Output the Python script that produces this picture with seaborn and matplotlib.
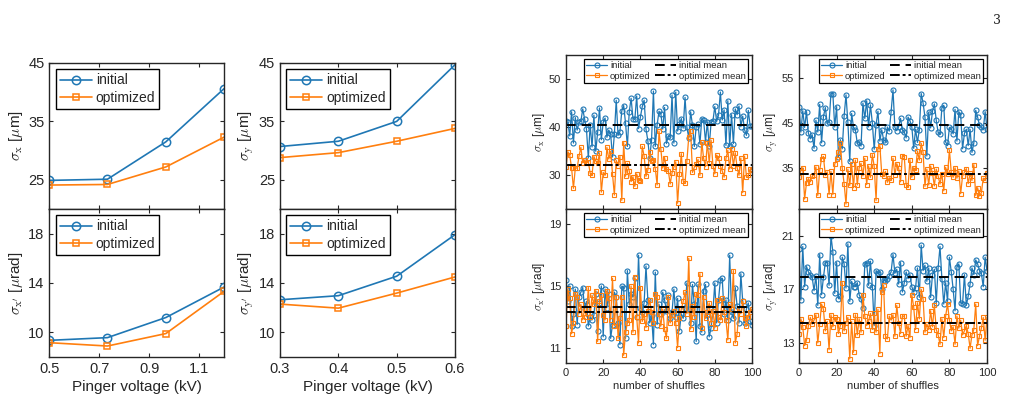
import numpy as np
import pandas as pd
import matplotlib
matplotlib.use("Agg")
import matplotlib.pyplot as plt
import seaborn as sns

# ---------------- data ----------------
volt_x = [0.5, 0.733, 0.967, 1.2]
volt_y = [0.3, 0.4, 0.5, 0.6]
sigx_init = [24.9, 25.1, 31.5, 40.6]
sigx_opt = [24.1, 24.2, 27.2, 32.3]
sigy_init = [30.7, 31.6, 35.0, 44.7]
sigy_opt = [28.8, 29.65, 31.6, 33.8]
sigxp_init = [9.35, 9.57, 11.2, 13.67]
sigxp_opt = [9.16, 8.89, 9.9, 13.32]
sigyp_init = [12.64, 12.97, 14.55, 17.92]
sigyp_opt = [12.29, 11.96, 13.18, 14.49]

shuffles = list(range(101))
sx_init = [41.3, 41.0, 38.2, 43.2, 36.7, 42.0, 39.4, 41.0, 41.2, 43.8,
           41.7, 39.6, 33.6, 40.5, 35.9, 42.5, 35.0, 38.9, 44.0, 37.4,
           41.0, 41.9, 37.9, 39.4, 38.6, 33.8, 38.5, 45.6, 38.3, 39.1,
           43.4, 44.5, 40.9, 36.0, 43.2, 46.0, 41.8, 41.6, 46.5, 39.7,
           42.1, 44.3, 45.6, 39.6, 37.2, 33.5, 37.4, 47.5, 36.0, 40.5,
           43.3, 42.8, 39.6, 44.1, 36.6, 38.2, 37.9, 46.7, 36.7, 47.3,
           39.2, 40.6, 41.8, 39.8, 46.2, 40.0, 37.8, 43.2, 40.4, 36.0,
           40.1, 40.6, 36.5, 41.8, 41.4, 37.0, 41.1, 36.0, 41.0, 41.3,
           44.3, 41.2, 42.5, 47.3, 41.5, 43.6, 36.2, 45.5, 36.0, 42.6,
           36.6, 43.8, 42.6, 44.4, 40.1, 42.3, 39.5, 38.3, 43.5, 40.3,
           40.2]
sx_opt = [31.8, 34.9, 34.2, 31.5, 27.3, 31.5, 31.5, 34.0, 35.8, 32.6,
          33.2, 32.6, 32.8, 30.4, 30.1, 33.9, 33.0, 32.5, 34.6, 26.5,
          30.6, 30.0, 35.8, 33.4, 35.0, 30.3, 25.9, 33.1, 32.0, 33.9,
          24.8, 36.8, 29.8, 32.5, 30.9, 28.7, 29.7, 27.7, 30.3, 29.0,
          28.8, 36.0, 34.0, 29.8, 31.1, 34.9, 33.0, 33.1, 31.4, 28.0,
          39.2, 35.4, 31.5, 33.7, 31.4, 31.0, 28.2, 30.5, 31.7, 32.8,
          24.2, 30.3, 34.5, 28.8, 28.5, 33.0, 38.0, 39.3, 30.6, 31.7,
          32.4, 33.3, 30.0, 36.9, 33.5, 31.8, 36.8, 32.6, 37.3, 32.0,
          30.3, 34.2, 33.6, 31.9, 30.9, 29.6, 33.5, 35.2, 31.3, 35.5,
          32.0, 34.7, 31.6, 30.0, 33.6, 26.4, 34.0, 29.7, 30.0, 31.3,
          31.2]
sxp_init = [15.4, 14.0, 15.0, 12.4, 13.2, 14.8, 12.5, 14.3, 14.6, 14.9,
            13.5, 14.0, 12.4, 13.0, 12.8, 13.1, 14.5, 12.1, 13.9, 15.0,
            11.7, 14.8, 13.6, 14.5, 11.6, 12.5, 14.6, 14.3, 12.6, 11.2,
            15.0, 14.9, 11.6, 16.0, 13.8, 14.5, 14.3, 15.5, 13.0, 17.0,
            13.6, 13.3, 13.9, 16.3, 14.1, 12.6, 13.1, 11.2, 15.9, 12.5,
            13.8, 13.2, 14.6, 14.1, 13.4, 14.4, 12.9, 13.3, 14.8, 13.0,
            14.2, 12.1, 13.2, 12.9, 13.6, 15.2, 13.5, 12.6, 15.1, 13.8,
            11.4, 15.1, 12.4, 12.0, 14.7, 15.1, 13.1, 11.7, 12.3, 13.4,
            15.2, 12.6, 14.1, 15.4, 15.5, 13.2, 14.1, 12.8, 17.0, 13.3,
            12.9, 14.9, 13.7, 12.6, 15.8, 14.0, 12.6, 13.5, 13.9, 12.7,
            12.5]
sxp_opt = [12.4, 14.8, 14.2, 11.9, 12.6, 14.5, 14.3, 13.2, 13.8, 12.8,
           13.5, 13.0, 14.9, 13.0, 14.4, 13.8, 14.7, 11.4, 14.0, 14.4,
           13.1, 12.8, 14.7, 14.2, 12.8, 15.5, 12.4, 14.3, 11.6, 12.9,
           14.3, 10.5, 12.0, 12.6, 12.8, 15.0, 12.0, 15.6, 13.0, 11.3,
           14.9, 12.7, 13.2, 12.3, 13.4, 14.1, 13.3, 12.6, 14.5, 14.3,
           13.2, 12.4, 13.5, 12.2, 11.6, 14.3, 12.6, 13.1, 13.4, 12.6,
           11.0, 12.9, 13.5, 14.0, 14.6, 13.2, 16.8, 12.2, 13.7, 13.0,
           14.5, 14.4, 15.8, 12.3, 14.3, 12.9, 13.3, 13.9, 12.6, 13.4,
           12.3, 14.1, 13.0, 12.8, 14.2, 13.3, 12.8, 11.5, 13.8, 13.5,
           16.0, 11.3, 11.9, 13.5, 13.2, 14.0, 12.9, 12.4, 13.0, 13.3,
           13.5]
sy_init = [48.5, 43.0, 47.7, 44.0, 47.5, 42.7, 41.5, 42.4, 39.4, 45.6,
           43.0, 49.1, 40.6, 46.4, 48.4, 44.9, 45.1, 51.5, 51.5, 44.1,
           48.6, 37.5, 41.3, 39.3, 46.5, 51.2, 45.1, 36.5, 47.1, 44.0,
           43.5, 40.5, 40.7, 39.9, 49.4, 46.0, 49.9, 44.1, 49.0, 45.0,
           39.2, 44.6, 47.6, 41.0, 43.5, 41.3, 40.9, 44.1, 43.2, 47.5,
           52.3, 44.0, 43.3, 44.2, 46.0, 43.5, 43.0, 41.7, 46.3, 45.5,
           44.2, 39.4, 43.6, 40.7, 43.5, 51.5, 49.4, 46.3, 37.7, 47.4,
           43.9, 47.6, 49.2, 45.6, 42.9, 42.5, 48.4, 48.9, 40.8, 40.0,
           44.0, 43.7, 42.6, 48.0, 41.0, 47.5, 46.8, 39.3, 42.7, 43.6,
           40.0, 43.6, 38.5, 40.6, 47.8, 46.3, 44.5, 44.1, 43.5, 47.5,
           43.7]
sy_opt = [33.0, 34.5, 35.1, 28.2, 31.8, 32.7, 32.0, 33.2, 33.6, 35.3,
          29.0, 34.6, 37.1, 37.6, 33.4, 34.2, 29.2, 34.3, 29.2, 35.9,
          37.0, 38.6, 40.5, 35.0, 31.6, 27.1, 34.8, 31.2, 35.9, 30.7,
          36.8, 31.3, 35.1, 36.1, 33.3, 37.2, 31.4, 35.5, 33.0, 38.0,
          35.4, 27.9, 39.3, 40.0, 33.8, 33.2, 34.3, 31.9, 32.9, 32.5,
          37.2, 33.6, 36.0, 35.0, 32.0, 37.8, 37.5, 31.4, 30.9, 36.9,
          33.0, 35.1, 34.6, 38.8, 36.8, 40.5, 38.5, 31.0, 34.8, 31.3,
          35.5, 33.9, 31.1, 34.8, 33.3, 31.5, 33.8, 30.0, 35.2, 33.7,
          39.0, 34.1, 33.0, 35.1, 32.8, 34.4, 29.4, 33.3, 34.1, 34.9,
          31.6, 33.9, 32.3, 35.8, 29.0, 30.7, 28.9, 29.6, 32.8, 32.5,
          34.0]
syp_init = [20.0, 16.2, 20.2, 17.2, 18.7, 18.3, 18.1, 17.9, 16.9, 18.0,
            15.8, 19.6, 16.6, 17.9, 19.0, 19.0, 17.3, 21.0, 19.8, 16.7,
            19.0, 16.3, 16.5, 19.4, 18.9, 17.1, 20.4, 16.1, 17.6, 17.2,
            17.2, 17.5, 16.6, 16.3, 15.6, 18.9, 19.0, 17.3, 19.1, 17.2,
            14.3, 18.4, 18.2, 18.3, 17.0, 17.7, 17.6, 17.8, 18.0, 18.3,
            19.6, 18.2, 18.5, 17.4, 19.0, 16.8, 17.5, 18.3, 17.8, 18.1,
            17.2, 16.8, 17.1, 18.6, 16.4, 20.3, 18.4, 18.8, 17.6, 18.6,
            16.4, 18.1, 18.5, 16.0, 18.6, 20.2, 17.8, 15.9, 17.5, 16.1,
            19.4, 18.3, 17.0, 15.4, 18.7, 18.9, 16.0, 15.9, 18.1, 15.8,
            16.5, 17.4, 18.6, 18.1, 19.2, 18.9, 18.4, 18.2, 17.2, 19.4,
            18.4]
syp_opt = [13.7, 14.8, 14.2, 12.8, 13.2, 14.3, 14.9, 14.4, 14.7, 15.1,
           13.0, 14.4, 15.9, 15.5, 13.9, 14.6, 12.5, 15.1, 14.2, 14.9,
           14.8, 13.7, 14.3, 17.5, 13.9, 14.5, 14.9, 11.8, 14.6, 12.3,
           15.1, 13.6, 14.8, 13.8, 16.6, 15.0, 14.3, 14.6, 15.2, 14.0,
           15.2, 13.8, 15.5, 12.2, 16.8, 17.3, 13.5, 13.3, 15.0, 14.7,
           15.1, 13.5, 15.8, 14.5, 13.7, 15.0, 15.0, 13.5, 14.3, 13.4,
           16.6, 15.7, 14.0, 16.0, 14.8, 17.0, 16.3, 13.8, 14.4, 14.0,
           15.4, 14.2, 15.8, 14.0, 13.6, 12.9, 14.8, 13.4, 15.0, 15.9,
           14.7, 13.9, 14.2, 12.9, 15.0, 14.1, 14.7, 13.6, 13.9, 14.3,
           13.7, 12.6, 13.6, 14.0, 15.9, 12.8, 13.5, 14.1, 14.9, 13.2,
           14.9]
means_init = [40.5, 13.66, 44.6, 17.9]
means_opt = [32.1, 13.33, 33.8, 14.47]

for arr in (sx_init, sx_opt, sxp_init, sxp_opt, sy_init, sy_opt, syp_init, syp_opt):
    assert len(arr) == 101, len(arr)

# ---------------- style ----------------
sns.set_style("ticks")
plt.rcParams["font.family"] = ["Liberation Sans", "DejaVu Sans"]
plt.rcParams["mathtext.fontset"] = "cm"

BLUE = "#1f77b4"
ORANGE = "#ff7f0e"
SPINE = "#262626"

W, H = 1013, 403
fig = plt.figure(figsize=(W / 100, H / 100), dpi=100)


def ax_at(x0, y0, x1, y1):
    return fig.add_axes([x0 / W, 1 - y1 / H, (x1 - x0) / W, (y1 - y0) / H])


def style_ax(ax, fs):
    for s in ax.spines.values():
        s.set_color(SPINE)
        s.set_linewidth(1.0)
    ax.tick_params(direction="in", top=True, right=True, labelsize=fs,
                   colors=SPINE, length=3, width=0.8)


# ---------------- left group ----------------
left_specs = [
    ((49.3, 63, 224, 209), volt_x, sigx_init, sigx_opt, (20, 45), [25, 35, 45],
     r"$\sigma_{\rm x}$ [$\mu$m]", False),
    ((49.3, 209, 224, 357), volt_x, sigxp_init, sigxp_opt, (8, 20), [10, 14, 18],
     r"$\sigma_{\rm x'}$ [$\mu$rad]", True),
    ((280, 63, 455, 209), volt_y, sigy_init, sigy_opt, (20, 45), [25, 35, 45],
     r"$\sigma_{\rm y}$ [$\mu$m]", False),
    ((280, 209, 455, 357), volt_y, sigyp_init, sigyp_opt, (8, 20), [10, 14, 18],
     r"$\sigma_{\rm y'}$ [$\mu$rad]", True),
]
for box, xv, yi, yo, ylim, yt, ylab, bottom in left_specs:
    ax = ax_at(*box)
    sns.lineplot(x=xv, y=yi, ax=ax, color=BLUE, marker="o", markersize=6,
                 markerfacecolor="none", markeredgecolor=BLUE, markeredgewidth=1.1,
                 linewidth=1.2, label="initial")
    sns.lineplot(x=xv, y=yo, ax=ax, color=ORANGE, marker="s", markersize=5,
                 markerfacecolor="none", markeredgecolor=ORANGE, markeredgewidth=1.1,
                 linewidth=1.2, label="optimized")
    ax.set_xlim(xv[0], xv[-1])
    ax.set_ylim(*ylim)
    ax.set_yticks(yt)
    if xv is volt_x:
        ax.set_xticks([0.5, 0.7, 0.9, 1.1])
        ax.set_xticklabels(["0.5", "0.7", "0.9", "1.1"])
    else:
        ax.set_xticks([0.3, 0.4, 0.5, 0.6])
        ax.set_xticklabels(["0.3", "0.4", "0.5", "0.6"])
    style_ax(ax, 10.5)
    if bottom:
        ax.set_xlabel("Pinger voltage (kV)", fontsize=11, color=SPINE, labelpad=3)
    else:
        ax.tick_params(labelbottom=False)
        ax.set_xlabel("")
    ax.set_ylabel(ylab, fontsize=11, color=SPINE, labelpad=2)
    leg = ax.legend(loc="upper left", fontsize=10, frameon=True, fancybox=False,
                    framealpha=1, edgecolor="black", handlelength=2.3,
                    borderpad=0.3, labelspacing=0.25, handletextpad=0.3,
                    borderaxespad=0.45)
    leg.get_frame().set_linewidth(1.0)

# ---------------- right group ----------------
right_specs = [
    ((566, 55, 752, 209), sx_init, sx_opt, 0, (23, 55), [30, 40, 50],
     r"$\sigma_{\rm x}$ [$\mu$m]", False),
    ((566, 209, 752, 363), sxp_init, sxp_opt, 1, (10, 20), [11, 15, 19],
     r"$\sigma_{\rm x'}$ [$\mu$rad]", True),
    ((799, 55, 987, 209), sy_init, sy_opt, 2, (26, 60), [35, 45, 55],
     r"$\sigma_{\rm y}$ [$\mu$m]", False),
    ((799, 209, 987, 363), syp_init, syp_opt, 3, (11.5, 23), [13, 17, 21],
     r"$\sigma_{\rm y'}$ [$\mu$rad]", True),
]
for box, yi, yo, k, ylim, yt, ylab, bottom in right_specs:
    ax = ax_at(*box)
    sns.lineplot(x=shuffles, y=yi, ax=ax, color=BLUE, marker="o", markersize=3.6,
                 markerfacecolor="none", markeredgecolor=BLUE, markeredgewidth=0.8,
                 linewidth=0.9, label="initial")
    sns.lineplot(x=shuffles, y=yo, ax=ax, color=ORANGE, marker="s", markersize=3.2,
                 markerfacecolor="none", markeredgecolor=ORANGE, markeredgewidth=0.8,
                 linewidth=0.9, label="optimized")
    ax.axhline(means_init[k], color="black", linestyle=(0, (5, 3)), linewidth=1.4,
               label="initial mean")
    ax.axhline(means_opt[k], color="black", linestyle=(0, (5, 1.5, 1.5, 1.5)),
               linewidth=1.4, label="optimized mean")
    ax.set_xlim(0, 100)
    ax.set_ylim(*ylim)
    ax.set_yticks(yt)
    ax.set_xticks([0, 20, 40, 60, 80, 100])
    style_ax(ax, 8)
    if bottom:
        ax.set_xlabel("number of shuffles", fontsize=8, color=SPINE, labelpad=2)
    else:
        ax.tick_params(labelbottom=False)
        ax.set_xlabel("")
    ax.set_ylabel(ylab, fontsize=8.5, color=SPINE, labelpad=1)
    leg = ax.legend(loc="upper right", ncol=2, fontsize=6.8, frameon=True,
                    fancybox=False, framealpha=1, edgecolor="black",
                    handlelength=2.2, borderpad=0.25, labelspacing=0.15,
                    handletextpad=0.3, columnspacing=0.5, borderaxespad=0.4)
    leg.get_frame().set_linewidth(0.9)

fig.text(0.988, 0.965, "3", family="DejaVu Serif", fontsize=9, ha="right", va="top")

fig.savefig("out.png", dpi=100)
